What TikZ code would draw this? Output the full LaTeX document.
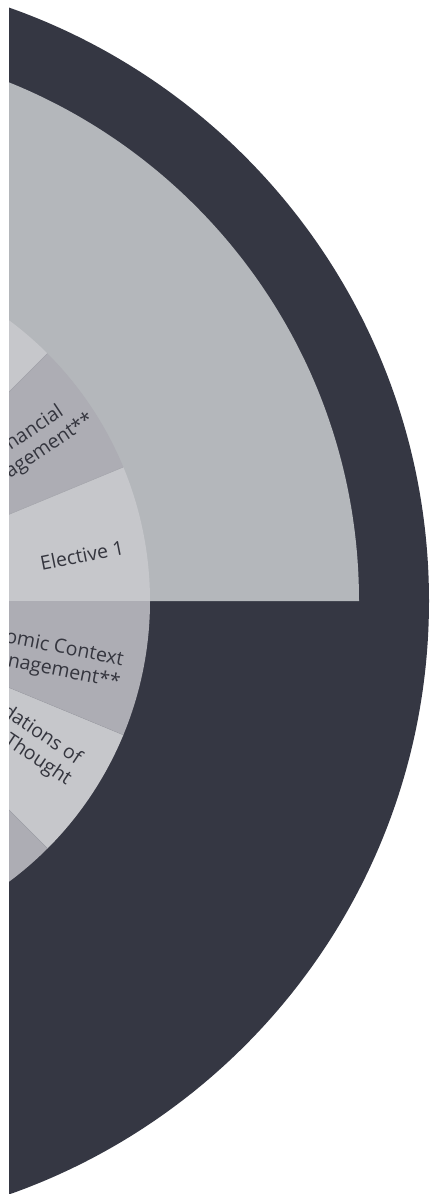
\documentclass[tikz,border=0pt]{standalone}
\usepackage{fontspec}
\setmainfont{Open Sans}
\usepackage{xcolor}

\begin{document}
\begin{tikzpicture}[x=1pt,y=1pt,yscale=-1,xscale=1,
  segL/.style={fill={rgb, 255:red, 198; green, 199; blue, 203 }},
  segD/.style={fill={rgb, 255:red, 173; green, 173; blue, 180 }},
  segline/.style={draw={rgb, 255:red, 160; green, 161; blue, 168 }, line width=0.4pt},
  modlabel/.style={color={rgb, 255:red, 52; green, 53; blue, 62 }, font=\fontsize{19.5}{23}\selectfont, align=center, inner sep=0pt}]
%set diagram: 430 wide, 1194 high, centre of the wheel off to the left
\useasboundingbox (0,0) rectangle (430,1194);
\clip (9,0) rectangle (430,1194);

%outer dark disc
\fill [color={rgb, 255:red, 53; green, 55; blue, 67 }] (-200,601) circle [radius=629];
%light grey quarter
\fill [color={rgb, 255:red, 180; green, 183; blue, 187 }] (-200,601) -- (359,601) arc [start angle=0, end angle=-90, radius=559] -- cycle;

%inner ring of modules
\foreach \s/\c in {-67.5/segL,-45/segD,-22.5/segL,0/segD,22.5/segL,45/segD}
  \path [\c] (-200,601) -- ++(\s:350) arc [start angle=\s, end angle=\s+22.5, radius=350] -- cycle;
\foreach \s in {-45,-22.5,22.5,45}
  \draw [segline] (-200,601) -- ++(\s:350);

%module names
\node [modlabel, rotate=33.75] (fin) at (34.8,442.3) {Financial\\Management**\hspace*{20pt}};
\node [modlabel, rotate=11.25] (elec) at (82,555.5) {Elective 1};
\node [modlabel, rotate=-11.25] (econ) at (40.6,656.3) {Economic Context\\of Management**};
\node [modlabel, rotate=-33.75] (found) at (16,732) {Foundations of\\Critical Thought};

\end{tikzpicture}
\end{document}
